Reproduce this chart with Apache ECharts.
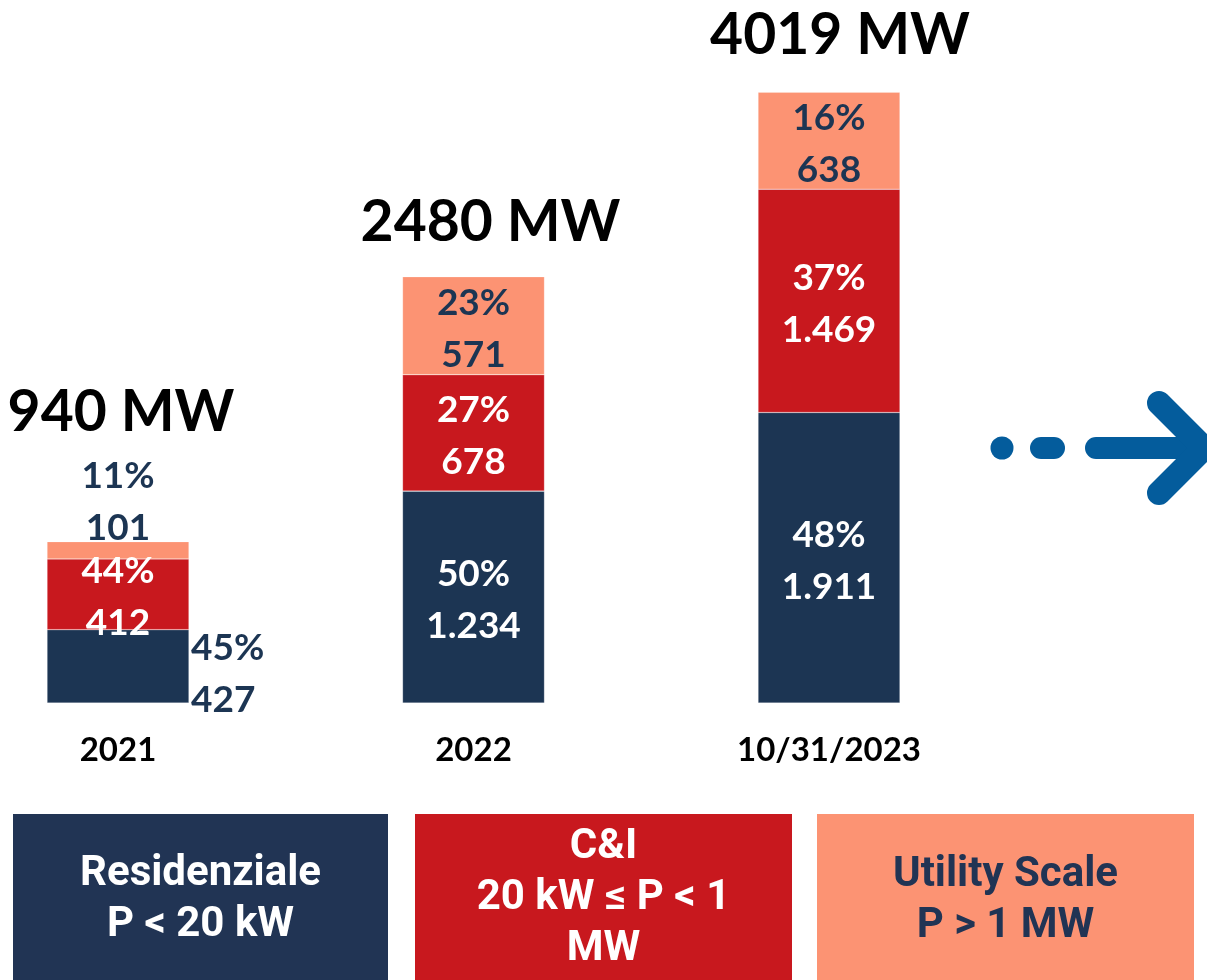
<!DOCTYPE html>
<html><head><meta charset="utf-8">
<script src="https://cdn.jsdelivr.net/npm/echarts@6/dist/echarts.min.js"></script>
<style>html,body{margin:0;padding:0;background:#fff}#c{width:1207px;height:980px}</style>
</head><body><div id="c"></div>
<script>
// ---- data ----
const categories = ['2021', '2022', '10/31/2023'];
const residenziale = [427, 1234, 1911];
const ci = [412, 678, 1469];
const utility = [101, 571, 638];
const pctResidenziale = [45, 50, 48];
const pctCI = [44, 27, 37];
const pctUtility = [11, 23, 16];
const totals = [940, 2480, 4019];
const legendLabels = ['Residenziale\nP < 20 kW', 'C&I\n20 kW \u2264 P < 1\nMW', 'Utility Scale\nP > 1 MW'];

// ---- style ----
const NAVY = '#1c3553', RED = '#c8181e', SALMON = '#fc9373', ARROW = '#045c9c';
const FONT = 'Lato';
const fmt = n => n >= 1000 ? Math.floor(n / 1000) + '.' + String(n % 1000).padStart(3, '0') : String(n);

// the reference draws the last bar on a compressed scale: two hidden value axes
const groups = [[0, 1], [2]];
const series = [];
const segs = [
  { name: 'Residenziale', vals: residenziale, pct: pctResidenziale, color: NAVY, text: '#fff' },
  { name: 'C&I', vals: ci, pct: pctCI, color: RED, text: '#fff' },
  { name: 'Utility Scale', vals: utility, pct: pctUtility, color: SALMON, text: NAVY }
];
const totalOffsets = [[3, -129], [17, -54], [11, -57]];
const specialLabel = {
  'Residenziale-0': { position: 'right', distance: 2, color: NAVY, offset: [0, 8], align: 'left' },
  'Utility Scale-0': { position: 'inside', offset: [0, -48] }
};
groups.forEach((idxs, g) => {
  segs.forEach(s => {
    series.push({
      name: s.name, type: 'bar', stack: 's' + g, xAxisIndex: g, yAxisIndex: g,
      barWidth: 142, clip: false,
      itemStyle: { color: s.color, borderColor: 'rgba(255,255,255,0.35)', borderWidth: 0.6 },
      label: {
        show: true, position: 'inside', offset: [0, 3], color: s.text, fontFamily: FONT, fontWeight: 'bold',
        fontSize: 37, lineHeight: 52,
        formatter: p => s.pct[p.dataIndex] + '%\n' + fmt(s.vals[p.dataIndex])
      },
      data: categories.map((c, i) => idxs.includes(i)
        ? (specialLabel[s.name + '-' + i]
            ? { value: s.vals[i], label: specialLabel[s.name + '-' + i] }
            : s.vals[i])
        : '-')
    });
  });
  series.push({
    name: 'Totale', type: 'bar', stack: 's' + g, xAxisIndex: g, yAxisIndex: g,
    barWidth: 142, clip: false, itemStyle: { color: 'transparent' },
    label: {
      show: true, position: 'inside', color: '#000', fontFamily: FONT, fontWeight: 'bold',
      fontSize: 57, formatter: p => totals[p.dataIndex] + ' MW'
    },
    data: categories.map((c, i) => idxs.includes(i)
      ? { value: 0, label: { offset: totalOffsets[i] } } : '-')
  });
});

const chart = echarts.init(document.getElementById('c'), null, { renderer: 'canvas' });
const xBase = {
  type: 'category', data: categories, boundaryGap: false,
  axisLine: { show: false }, axisTick: { show: false }, splitLine: { show: false }
};
const legendBoxes = [
  { x: 13, w: 375, color: '#213454', text: '#ffffff', cy: 900 },
  { x: 415, w: 377, color: RED, text: '#ffffff', cy: 898 },
  { x: 817, w: 377, color: SALMON, text: '#213454', cy: 901 }
];
const graphic = [];
legendBoxes.forEach((b, i) => {
  graphic.push({ type: 'rect', shape: { x: b.x, y: 814, width: b.w, height: 166 }, style: { fill: b.color }, z: 1 });
  graphic.push({
    type: 'text', x: b.x + b.w / 2, y: b.cy, z: 2,
    style: { text: legendLabels[i], fill: b.text, fontFamily: 'Roboto', fontWeight: 'bold', fontSize: 42,
      lineHeight: 51, align: 'center', verticalAlign: 'middle' }
  });
});
// dotted arrow
graphic.push({ type: 'circle', shape: { cx: 1002, cy: 448, r: 11.5 }, style: { fill: ARROW } });
graphic.push({ type: 'line', shape: { x1: 1041, y1: 448, x2: 1054, y2: 448 }, style: { stroke: ARROW, lineWidth: 22, lineCap: 'round' } });
graphic.push({ type: 'line', shape: { x1: 1096, y1: 448, x2: 1200, y2: 448 }, style: { stroke: ARROW, lineWidth: 22, lineCap: 'round' } });
graphic.push({ type: 'polyline', shape: { points: [[1159, 403], [1204, 448], [1159, 493]] },
  style: { stroke: ARROW, lineWidth: 24, lineCap: 'round', lineJoin: 'miter', fill: null } });

chart.setOption({
  animation: false,
  backgroundColor: '#ffffff',
  grid: { left: 118, right: 378, top: 3, bottom: 277, containLabel: false },
  xAxis: [
    Object.assign({}, xBase, { axisLabel: { show: true, margin: 31, color: '#000', fontFamily: FONT, fontWeight: 'bold', fontSize: 33, lineHeight: 32 } }),
    Object.assign({}, xBase, { show: false })
  ],
  yAxis: [
    { type: 'value', min: 0, max: 4077, show: false, splitLine: { show: false } },
    { type: 'value', min: 0, max: 4605, show: false, splitLine: { show: false } }
  ],
  series: series,
  graphic: graphic
});
</script>
</body></html>
